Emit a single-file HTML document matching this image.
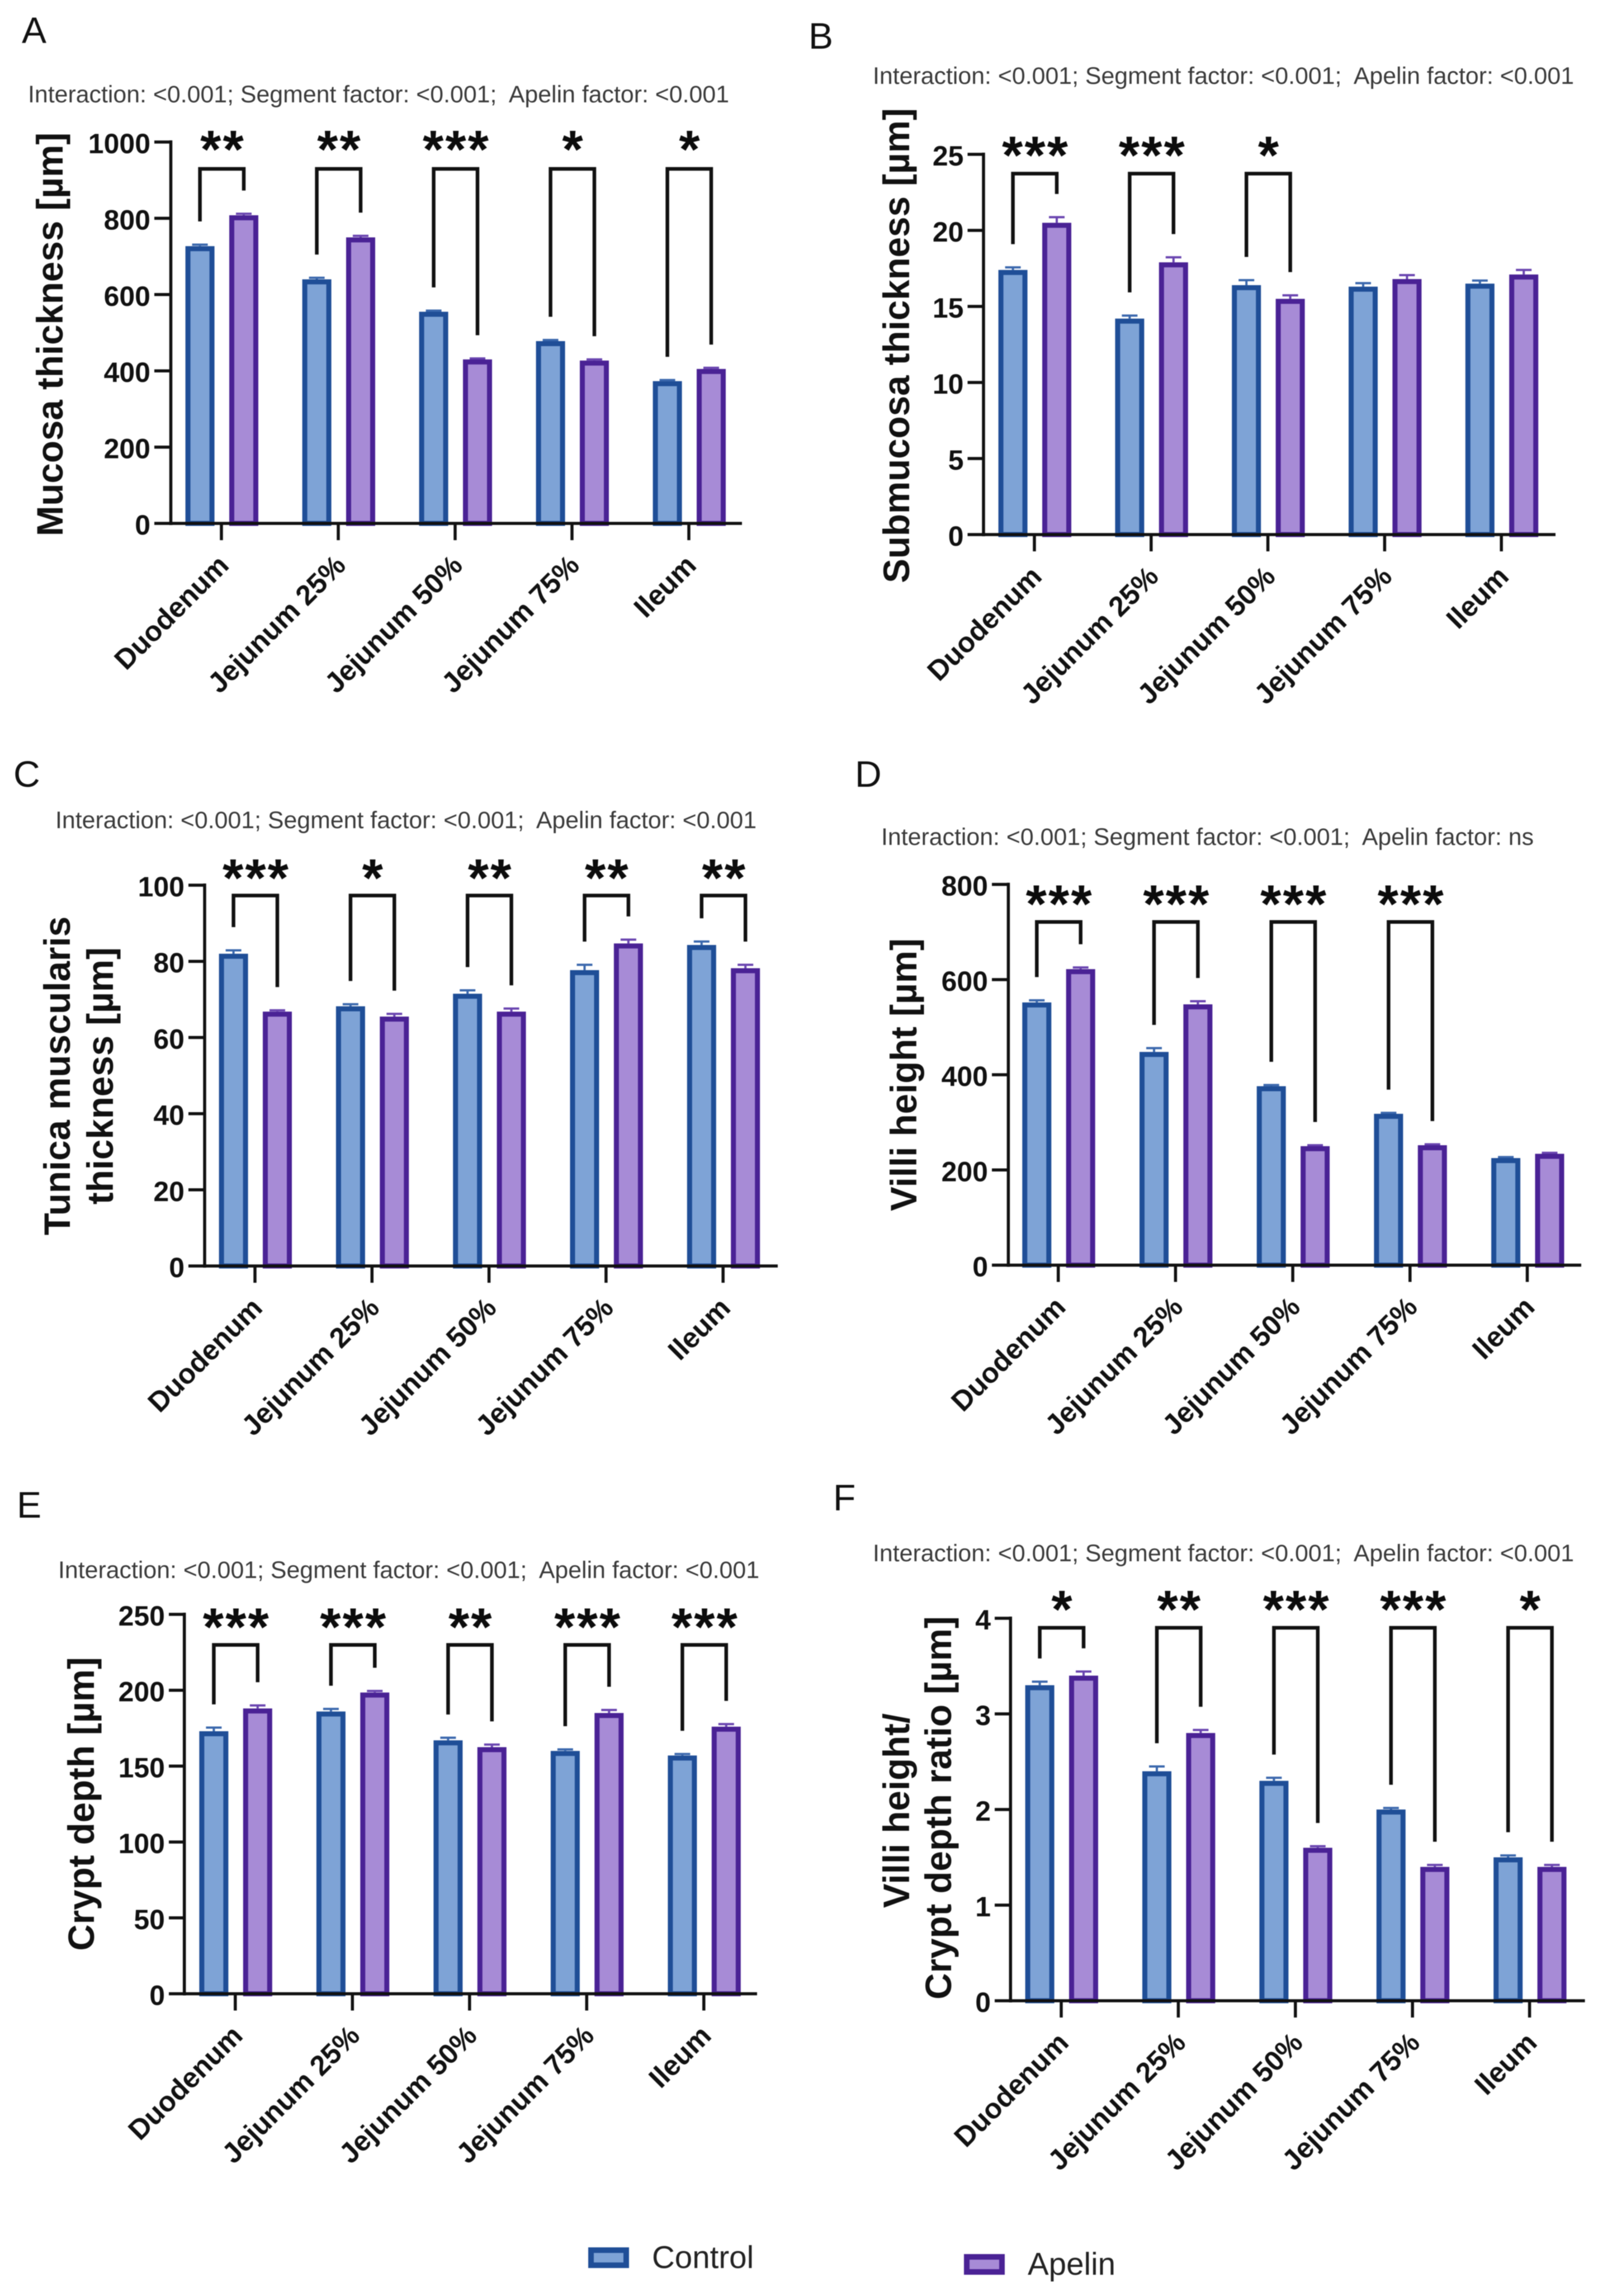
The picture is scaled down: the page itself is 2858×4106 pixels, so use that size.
<!DOCTYPE html>
<html lang="en">
<head>
<meta charset="utf-8">
<title>Intestinal morphometry: Control vs Apelin</title>
<style>
html,body{margin:0;padding:0;background:#fff;}
svg{display:block;filter:blur(0.9px);}
text{font-family:"Liberation Sans",Arial,sans-serif;white-space:pre;}
.title{font-weight:700;font-size:65.5px;fill:#111;text-anchor:middle;}
.stat{font-size:42.85px;fill:#3a3a3a;}
.letter{font-size:66px;fill:#111;}
.legend{font-size:56.5px;fill:#222;}
</style>
</head>
<body>
<svg id="figure" xmlns="http://www.w3.org/2000/svg" width="2858" height="4106" viewBox="0 0 2858 4106">
  <rect width="2858" height="4106" fill="#ffffff"/>

  <text class="letter" x="39" y="77">A</text>
  <text class="letter" x="1446" y="87">B</text>
  <text class="letter" x="24" y="1407">C</text>
  <text class="letter" x="1529" y="1407">D</text>
  <text class="letter" x="30" y="2714">E</text>
  <text class="letter" x="1490" y="2701">F</text>

  <text class="stat" x="50" y="183">Interaction: &lt;0.001; Segment factor: &lt;0.001;  Apelin factor: &lt;0.001</text>
  <text class="stat" x="1561" y="150">Interaction: &lt;0.001; Segment factor: &lt;0.001;  Apelin factor: &lt;0.001</text>
  <text class="stat" x="99" y="1481">Interaction: &lt;0.001; Segment factor: &lt;0.001;  Apelin factor: &lt;0.001</text>
  <text class="stat" x="1576" y="1511">Interaction: &lt;0.001; Segment factor: &lt;0.001;  Apelin factor: ns</text>
  <text class="stat" x="104" y="2822">Interaction: &lt;0.001; Segment factor: &lt;0.001;  Apelin factor: &lt;0.001</text>
  <text class="stat" x="1561" y="2792">Interaction: &lt;0.001; Segment factor: &lt;0.001;  Apelin factor: &lt;0.001</text>

  <text class="title" transform="translate(112,598) rotate(-90)">Mucosa thickness [µm]</text>
  <text class="title" transform="translate(1626,618) rotate(-90)">Submucosa thickness [µm]</text>
  <text class="title" transform="translate(125,1924) rotate(-90)">Tunica muscularis</text>
  <text class="title" transform="translate(202,1924) rotate(-90)">thickness [µm]</text>
  <text class="title" transform="translate(1639,1922) rotate(-90)">Villi height [µm]</text>
  <text class="title" transform="translate(168,3226) rotate(-90)">Crypt depth [µm]</text>
  <text class="title" transform="translate(1626,3238) rotate(-90)">Villi height/</text>
  <text class="title" transform="translate(1701,3233) rotate(-90)">Crypt depth ratio [µm]</text>

  <g id="chart-a"></g>
  <g id="chart-b"></g>
  <g id="chart-c"></g>
  <g id="chart-d"></g>
  <g id="chart-e"></g>
  <g id="chart-f"></g>

  <g>
    <rect x="1057" y="4024" width="63" height="27" fill="#7ea3d6" stroke="#1f4e97" stroke-width="10"/>
    <text class="legend" x="1166" y="4056">Control</text>
  </g>
  <g>
    <rect x="1729" y="4036" width="63" height="27" fill="#a78bd6" stroke="#4a2295" stroke-width="10"/>
    <text class="legend" x="1838" y="4068">Apelin</text>
  </g>
</svg>

<script>
const categories = ['Duodenum', 'Jejunum 25%', 'Jejunum 50%', 'Jejunum 75%', 'Ileum'];

const mucosaTicks = [0, 200, 400, 600, 800, 1000];
const mucosaControl = [727, 640, 555, 478, 373];
const mucosaApelin = [808, 750, 430, 427, 405];
const mucosaControlErr = [4, 4, 3, 3, 3];
const mucosaApelinErr = [4, 4, 2.5, 3, 3];
const mucosaStars = ['**', '**', '***', '*', '*'];

const submucosaTicks = [0, 5, 10, 15, 20, 25];
const submucosaControl = [17.4, 14.2, 16.4, 16.3, 16.5];
const submucosaApelin = [20.5, 17.9, 15.5, 16.8, 17.1];
const submucosaControlErr = [0.17, 0.2, 0.33, 0.23, 0.2];
const submucosaApelinErr = [0.37, 0.33, 0.23, 0.26, 0.3];
const submucosaStars = ['***', '***', '*', '', ''];

const tunicaTicks = [0, 20, 40, 60, 80, 100];
const tunicaControl = [82, 68.2, 71.5, 77.7, 84.3];
const tunicaApelin = [66.8, 65.5, 66.8, 84.7, 78.2];
const tunicaControlErr = [0.9, 0.55, 0.9, 1.4, 0.9];
const tunicaApelinErr = [0.35, 0.7, 0.8, 1, 0.9];
const tunicaStars = ['***', '*', '**', '**', '**'];

const villiTicks = [0, 200, 400, 600, 800];
const villiControl = [552, 448, 376, 318, 225];
const villiApelin = [622, 548, 250, 252, 234];
const villiControlErr = [4.5, 8, 2.5, 2, 2];
const villiApelinErr = [3.5, 6.5, 2, 2, 2];
const villiStars = ['***', '***', '***', '***', ''];

const cryptTicks = [0, 50, 100, 150, 200, 250];
const cryptControl = [173, 186, 167, 160, 157];
const cryptApelin = [188, 198.5, 162.5, 185, 176];
const cryptControlErr = [2.4, 1.7, 1.7, 1, 1];
const cryptApelinErr = [2, 1, 1.7, 2, 1.7];
const cryptStars = ['***', '***', '**', '***', '***'];

const ratioTicks = [0, 1, 2, 3, 4];
const ratioControl = [3.3, 2.4, 2.3, 2.0, 1.5];
const ratioApelin = [3.4, 2.8, 1.6, 1.4, 1.4];
const ratioControlErr = [0.037, 0.05, 0.032, 0.016, 0.02];
const ratioApelinErr = [0.043, 0.032, 0.016, 0.02, 0.02];
const ratioStars = ['*', '**', '***', '***', '*'];

const SVG_NS = 'http://www.w3.org/2000/svg';

function make(parent, tag, attrs, text) {
  const node = document.createElementNS(SVG_NS, tag);
  for (const key in attrs) node.setAttribute(key, attrs[key]);
  if (text !== undefined) node.textContent = text;
  parent.appendChild(node);
  return node;
}

function drawChart(cfg) {
  const root = document.getElementById(cfg.id);
  const maxTick = cfg.ticks[cfg.ticks.length - 1];
  const yAt = v => cfg.yBase - (v / maxTick) * (cfg.yBase - cfg.yTop);
  const xAt = i => cfg.xFirst + i * cfg.xStep;
  const BAR_OFFSET = 39.2, BAR_W = 43, BAR_STROKE = 9, CAP = 14, GAP = 41.5;
  const COLORS = {
    control: { fill: '#7ea3d6', stroke: '#1f4e97', err: '#3b68ad' },
    apelin: { fill: '#a78bd6', stroke: '#4a2295', err: '#6a45b0' }
  };

  function drawBar(i, series, values, errs, cx) {
    const c = COLORS[series];
    const top = yAt(values[i]);
    const errTop = yAt(values[i] + errs[i]);
    const stem = make(root, 'line', { x1: cx, x2: cx, y1: top, y2: errTop, stroke: c.err, 'stroke-width': 4 });
    
    
    const cap = make(root, 'line', { x1: cx - CAP, x2: cx + CAP, y1: errTop, y2: errTop, stroke: c.err, 'stroke-width': 4 });
    
    
    const bar = make(root, 'rect', {
      x: cx - BAR_W / 2, y: top + BAR_STROKE / 2, width: BAR_W, height: cfg.yBase - top - BAR_STROKE / 2,
      fill: c.fill, stroke: c.stroke, 'stroke-width': BAR_STROKE
    });
    
    
  }

  categories.forEach((name, i) => {
    const center = xAt(i) + 0.8;
    const xC = center - BAR_OFFSET;
    const xA = center + BAR_OFFSET;
    drawBar(i, 'control', cfg.control, cfg.controlErr, xC);
    drawBar(i, 'apelin', cfg.apelin, cfg.apelinErr, xA);

    if (cfg.stars[i]) {
      const legC = yAt(cfg.control[i] + cfg.controlErr[i]) - GAP;
      const legA = yAt(cfg.apelin[i] + cfg.apelinErr[i]) - GAP;
      const bracket = make(root, 'path', {
        d: 'M' + xC + ' ' + legC + ' V' + cfg.bracketY + ' H' + xA + ' V' + legA,
        fill: 'none', stroke: '#111', 'stroke-width': 6.5
      });
      
      
      const star = make(root, 'text', {
        x: xAt(i) + 2.5, y: cfg.starY + 44, 'text-anchor': 'middle',
        'font-size': 96, 'font-weight': 700, 'letter-spacing': 3, fill: '#0c0c0c'
      }, cfg.stars[i]);
      
      
    }
  });

  const yAxis = make(root, 'line', { x1: cfg.xAxis, x2: cfg.xAxis, y1: cfg.yTop - 3, y2: cfg.yBase + 3, stroke: '#111', 'stroke-width': 5.5 });
  
  

  const xAxis = make(root, 'line', { x1: cfg.xLeft, x2: cfg.xRight + 2, y1: cfg.yBase, y2: cfg.yBase, stroke: '#111', 'stroke-width': 5.5 });
  
  

  cfg.ticks.forEach(t => {
    const y = yAt(t);
    if (t !== 0) {
      const tick = make(root, 'line', { x1: cfg.xLeft, x2: cfg.xAxis, y1: y, y2: y, stroke: '#111', 'stroke-width': 5.5 });
      
      
    }
    const label = make(root, 'text', {
      x: cfg.xLeft - 7, y: y + 20, 'text-anchor': 'end',
      'font-size': 50, 'font-weight': 700, fill: '#111'
    }, String(t));
    
    
  });

  categories.forEach((name, i) => {
    const x = xAt(i);
    const tick = make(root, 'line', { x1: x, x2: x, y1: cfg.yBase, y2: cfg.yBase + 30, stroke: '#111', 'stroke-width': 5.5 });
    
    
    const lx = x + 16;
    const ly = cfg.yBase + 78;
    const label = make(root, 'text', {
      x: lx, y: ly, 'text-anchor': 'end', transform: 'rotate(-45 ' + lx + ' ' + ly + ')',
      'font-size': 50.5, 'font-weight': 700, fill: '#111'
    }, name);
    
    
  });
}

drawChart({ id: 'chart-a', ticks: mucosaTicks, control: mucosaControl, apelin: mucosaApelin,
  controlErr: mucosaControlErr, apelinErr: mucosaApelinErr, stars: mucosaStars,
  xAxis: 305.5, xLeft: 276, xRight: 1325, yBase: 936, yTop: 254, xFirst: 396, xStep: 209, bracketY: 302, starY: 256 });
drawChart({ id: 'chart-b', ticks: submucosaTicks, control: submucosaControl, apelin: submucosaApelin,
  controlErr: submucosaControlErr, apelinErr: submucosaApelinErr, stars: submucosaStars,
  xAxis: 1759, xLeft: 1730.5, xRight: 2780, yBase: 956, yTop: 276, xFirst: 1850, xStep: 208.8, bracketY: 310.5, starY: 266.5 });
drawChart({ id: 'chart-c', ticks: tunicaTicks, control: tunicaControl, apelin: tunicaApelin,
  controlErr: tunicaControlErr, apelinErr: tunicaApelinErr, stars: tunicaStars,
  xAxis: 366, xLeft: 337, xRight: 1389, yBase: 2264, yTop: 1583, xFirst: 456, xStep: 209.3, bracketY: 1601.5, starY: 1559 });
drawChart({ id: 'chart-d', ticks: villiTicks, control: villiControl, apelin: villiApelin,
  controlErr: villiControlErr, apelinErr: villiApelinErr, stars: villiStars,
  xAxis: 1803.4, xLeft: 1774, xRight: 2826, yBase: 2262.5, yTop: 1581.6, xFirst: 1892.7, xStep: 209.7, bracketY: 1648.7, starY: 1605.7 });
drawChart({ id: 'chart-e', ticks: cryptTicks, control: cryptControl, apelin: cryptApelin,
  controlErr: cryptControlErr, apelinErr: cryptApelinErr, stars: cryptStars,
  xAxis: 329.7, xLeft: 302, xRight: 1352, yBase: 3565.5, yTop: 2887, xFirst: 420.8, xStep: 209.5, bracketY: 2941.6, starY: 2898.6 });
drawChart({ id: 'chart-f', ticks: ratioTicks, control: ratioControl, apelin: ratioApelin,
  controlErr: ratioControlErr, apelinErr: ratioApelinErr, stars: ratioStars,
  xAxis: 1807.3, xLeft: 1779, xRight: 2832.6, yBase: 3578, yTop: 2894, xFirst: 1898, xStep: 209.4, bracketY: 2911, starY: 2867 });
</script>
</body>
</html>
